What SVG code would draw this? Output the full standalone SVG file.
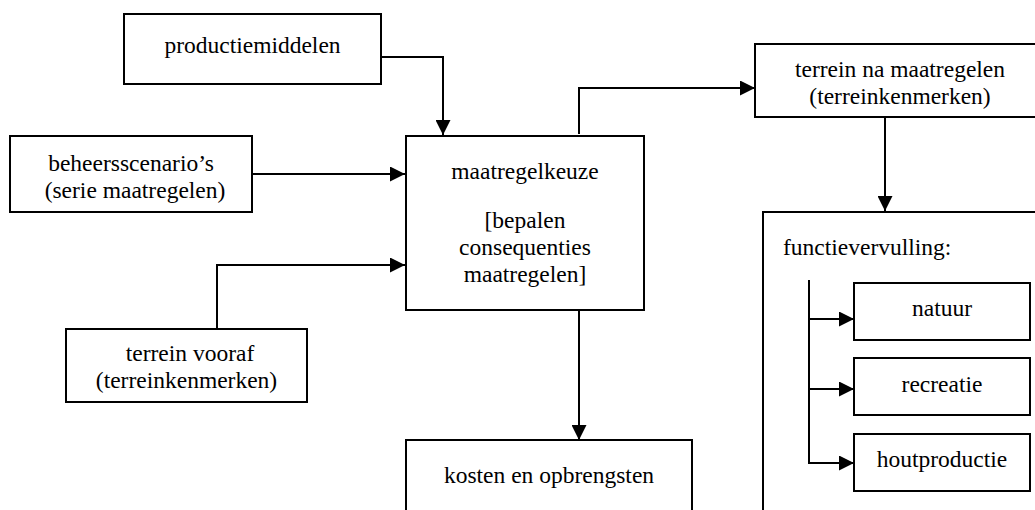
<svg xmlns="http://www.w3.org/2000/svg" width="1035" height="510" viewBox="0 0 1035 510">
<defs>
<marker id="ah" markerUnits="userSpaceOnUse" markerWidth="15" markerHeight="15" refX="15" refY="7.5" orient="auto">
<path d="M0,0 L15,7.5 L0,15 Z" fill="#000"/>
</marker>
</defs>
<rect width="1035" height="510" fill="#fff"/>
<g id="productiemiddelen">
<rect x="124" y="14" width="257" height="70" fill="#fff" stroke="#000" stroke-width="2"/>
<text x="252.5" y="53" font-family="Liberation Serif" font-size="23.5" text-anchor="middle">productiemiddelen</text>
</g>
<g id="beheersscenarios">
<rect x="10" y="136" width="242" height="76" fill="#fff" stroke="#000" stroke-width="2"/>
<text x="131" y="171" font-family="Liberation Serif" font-size="23.5" text-anchor="middle">beheersscenario’s</text>
<text x="135" y="198" font-family="Liberation Serif" font-size="23.5" text-anchor="middle">(serie maatregelen)</text>
</g>
<g id="terrein-vooraf">
<rect x="66" y="329" width="241" height="73" fill="#fff" stroke="#000" stroke-width="2"/>
<text x="190" y="361" font-family="Liberation Serif" font-size="23.5" text-anchor="middle">terrein vooraf</text>
<text x="186.5" y="388" font-family="Liberation Serif" font-size="23.5" text-anchor="middle">(terreinkenmerken)</text>
</g>
<g id="maatregelkeuze">
<rect x="406" y="136" width="238" height="174" fill="#fff" stroke="#000" stroke-width="2"/>
<text x="525" y="179" font-family="Liberation Serif" font-size="23.5" text-anchor="middle">maatregelkeuze</text>
<text x="525" y="228" font-family="Liberation Serif" font-size="23.5" text-anchor="middle">[bepalen</text>
<text x="525" y="255" font-family="Liberation Serif" font-size="23.5" text-anchor="middle">consequenties</text>
<text x="525" y="282" font-family="Liberation Serif" font-size="23.5" text-anchor="middle">maatregelen]</text>
</g>
<g id="terrein-na">
<rect x="755" y="44" width="290" height="73" fill="#fff" stroke="#000" stroke-width="2"/>
<text x="900" y="77" font-family="Liberation Serif" font-size="23.5" text-anchor="middle">terrein na maatregelen</text>
<text x="900" y="104" font-family="Liberation Serif" font-size="23.5" text-anchor="middle">(terreinkenmerken)</text>
</g>
<g id="kosten">
<rect x="406" y="440" width="286" height="80" fill="#fff" stroke="#000" stroke-width="2"/>
<text x="549" y="483" font-family="Liberation Serif" font-size="23.5" text-anchor="middle">kosten en opbrengsten</text>
</g>
<g id="functievervulling">
<rect x="763" y="212" width="290" height="310" fill="#fff" stroke="#000" stroke-width="2"/>
<text x="783" y="255" font-family="Liberation Serif" font-size="23.5">functievervulling:</text>
</g>
<g id="natuur">
<rect x="854" y="283" width="176" height="57" fill="#fff" stroke="#000" stroke-width="2"/>
<text x="942" y="316" font-family="Liberation Serif" font-size="23.5" text-anchor="middle">natuur</text>
</g>
<g id="recreatie">
<rect x="854" y="358" width="176" height="57" fill="#fff" stroke="#000" stroke-width="2"/>
<text x="942" y="392" font-family="Liberation Serif" font-size="23.5" text-anchor="middle">recreatie</text>
</g>
<g id="houtproductie">
<rect x="854" y="434" width="176" height="57" fill="#fff" stroke="#000" stroke-width="2"/>
<text x="942" y="467" font-family="Liberation Serif" font-size="23.5" text-anchor="middle">houtproductie</text>
</g>
<g id="connectors" fill="none" stroke="#000" stroke-width="2">
<path d="M381,57 H443 V135" marker-end="url(#ah)"/>
<path d="M252,174 H405" marker-end="url(#ah)"/>
<path d="M217,329 V265 H405" marker-end="url(#ah)"/>
<path d="M579,134 V88 H755" marker-end="url(#ah)"/>
<path d="M885,117 V211" marker-end="url(#ah)"/>
<path d="M579,310 V440" marker-end="url(#ah)"/>
<path d="M809,280 V463"/>
<path d="M809,319 H854" marker-end="url(#ah)"/>
<path d="M809,389 H854" marker-end="url(#ah)"/>
<path d="M808,463 H854" marker-end="url(#ah)"/>
</g>
</svg>
